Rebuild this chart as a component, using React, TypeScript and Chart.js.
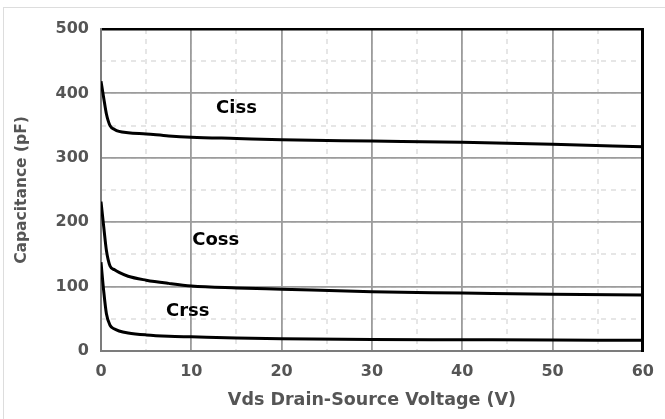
import React, { useEffect, useRef } from "react";
import { Chart, registerables } from "chart.js";

Chart.register(...registerables);

// Drain-source voltage (V)
const vds = [0, 0.3, 0.6, 1, 1.5, 2, 3, 5, 7.5, 10, 15, 20, 30, 40, 50, 60];
// Capacitances (pF)
const ciss = [419, 393, 368, 350, 344, 341, 339, 337, 334, 332, 330, 328, 326, 324, 321, 317];
const coss = [232, 193, 156, 132, 126, 122, 116, 110, 105, 101, 98, 96, 92, 90, 88, 87];
const crss = [138, 93, 58, 40, 34, 31, 28, 25, 23, 22, 20, 19, 18, 17.5, 17, 16.5];

const seriesNames = ["Ciss", "Coss", "Crss"];
const labelX = [15, 12.7, 9.6];
const labelY = [377, 172, 61];

const xTitle = "Vds Drain-Source Voltage (V)";
const yTitle = "Capacitance (pF)";

const FONT = "'DejaVu Sans', 'Verdana', sans-serif";
const TEXT_GRAY = "#555555";

const seriesLabelPlugin = {
  id: "seriesLabels",
  afterDatasetsDraw(chart: any) {
    const { ctx, scales } = chart;
    const x = scales.x;
    const y = scales.y;
    ctx.save();
    ctx.font = `bold 18px ${FONT}`;
    ctx.fillStyle = "#000";
    ctx.textAlign = "center";
    ctx.textBaseline = "middle";
    seriesNames.forEach((n, i) => {
      ctx.fillText(n, x.getPixelForValue(labelX[i]), y.getPixelForValue(labelY[i]));
    });
    ctx.restore();
  },
};

export default function App() {
  const ref = useRef<HTMLCanvasElement | null>(null);

  useEffect(() => {
    if (!ref.current) return;
    const mk = (arr: number[]) => vds.map((v, i) => ({ x: v, y: arr[i] }));
    const lineStyle = {
      borderColor: "#000",
      borderWidth: 3,
      pointRadius: 0,
      tension: 0.4,
      cubicInterpolationMode: "monotone" as const,
      fill: false,
    };
    const chart = new Chart(ref.current, {
      type: "line",
      data: {
        datasets: [
          { label: seriesNames[0], data: mk(ciss), ...lineStyle },
          { label: seriesNames[1], data: mk(coss), ...lineStyle },
          { label: seriesNames[2], data: mk(crss), ...lineStyle },
        ],
      },
      options: {
        animation: false,
        responsive: false,
        events: [],
        layout: { padding: { left: 0, top: 29, right: 22, bottom: 0 } },
        plugins: { legend: { display: false }, tooltip: { enabled: false } },
        scales: {
          x: {
            type: "linear",
            position: "bottom",
            min: 0,
            max: 60,
            ticks: {
              stepSize: 10,
              padding: 11,
              color: TEXT_GRAY,
              font: { family: FONT, size: 16, weight: "bold" },
            },
            grid: { color: "#9c9c9c", lineWidth: 1.8, drawTicks: false },
            border: { color: "#7c7c7c", width: 2 },
            title: {
              display: true,
              text: xTitle,
              color: TEXT_GRAY,
              font: { family: FONT, size: 17.5, weight: "bold" },
              padding: { top: 0, bottom: 8.5 },
            },
            afterFit: (s: any) => {
              s.height = 68;
            },
          },
          xMinor: {
            type: "linear",
            position: "bottom",
            min: 0,
            max: 60,
            ticks: { display: false, stepSize: 5 },
            grid: { color: "#e6e6e6", lineWidth: 2, drawTicks: false, z: -2 },
            border: { display: false, dash: [5, 5] },
            afterFit: (s: any) => {
              s.height = 0;
            },
          },
          xTop: {
            type: "linear",
            position: "top",
            min: 0,
            max: 60,
            ticks: { display: false },
            grid: { color: "rgba(0,0,0,0)", drawTicks: false },
            border: { color: "#000", width: 2.5 },
            afterFit: (s: any) => {
              s.height = 0;
            },
          },
          y: {
            type: "linear",
            position: "left",
            min: 0,
            max: 500,
            ticks: {
              stepSize: 100,
              padding: 12,
              color: TEXT_GRAY,
              font: { family: FONT, size: 16, weight: "bold" },
            },
            grid: { color: "#9c9c9c", lineWidth: 1.8, drawTicks: false },
            border: { color: "#7c7c7c", width: 2 },
            title: {
              display: true,
              text: yTitle,
              color: TEXT_GRAY,
              font: { family: FONT, size: 15.5, weight: "bold" },
              padding: { top: 12.2, bottom: 0 },
            },
            afterFit: (s: any) => {
              s.width = 101;
            },
          },
          yMinor: {
            type: "linear",
            position: "left",
            min: 0,
            max: 500,
            ticks: { display: false, stepSize: 50 },
            grid: { color: "#e6e6e6", lineWidth: 2, drawTicks: false, z: -2 },
            border: { display: false, dash: [5, 5] },
            afterFit: (s: any) => {
              s.width = 0;
            },
          },
          yRight: {
            type: "linear",
            position: "right",
            min: 0,
            max: 500,
            ticks: { display: false },
            grid: { color: "rgba(0,0,0,0)", drawTicks: false },
            border: { color: "#000", width: 3 },
            afterFit: (s: any) => {
              s.width = 0;
            },
          },
        },
      } as any,
      plugins: [seriesLabelPlugin],
    });
    return () => chart.destroy();
  }, []);

  return (
    <div
      style={{
        position: "fixed",
        left: 0,
        top: 0,
        width: 665,
        height: 419,
        overflow: "hidden",
        background: "#fff",
      }}
    >
      <div
        style={{
          position: "absolute",
          left: 3,
          top: 7,
          width: 700,
          height: 500,
          border: "1px solid #dddddd",
        }}
      />
      <canvas
        ref={ref}
        width={665}
        height={419}
        style={{ position: "absolute", left: 0, top: 0, display: "block" }}
      />
    </div>
  );
}
